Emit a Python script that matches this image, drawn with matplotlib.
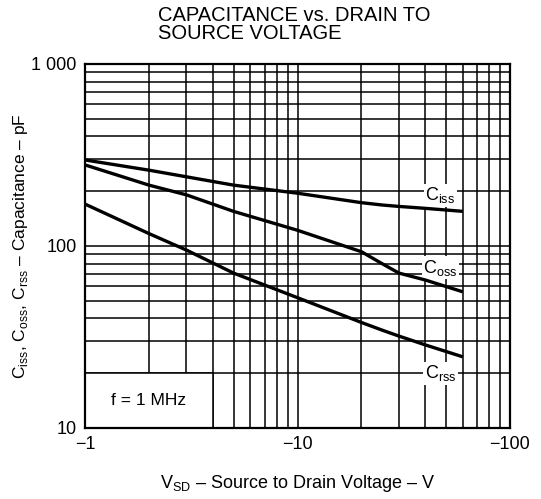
import matplotlib
matplotlib.use("Agg")
import matplotlib.pyplot as plt
from matplotlib.patches import Rectangle
from matplotlib.ticker import FixedLocator, FixedFormatter, NullFormatter

plt.rcParams['font.family'] = ['Liberation Sans', 'DejaVu Sans']
plt.rcParams['mathtext.fontset'] = 'custom'
plt.rcParams['mathtext.rm'] = 'Liberation Sans'

# source to drain voltage (V)
vsd = [-1, -2, -3, -5, -10, -20, -25, -30, -40, -60]
# capacitances (pF)
ciss = [297, 261, 240, 216, 195, 173, 168, 165, 161, 155]
coss = [279, 216, 191, 155, 122, 93, 80, 71, 65, 56]
crss = [170, 117, 95, 71, 52, 38, 34.5, 32, 28.6, 24.6]

x_ticks = [1, 10, 100]
x_ticklabels = ['\u22121', '\u221210', '\u2212100']
y_ticks = [10, 100, 1000]
y_ticklabels = ['10', '100', '1 000']

curve_labels = ['C$_{\\rm iss}$', 'C$_{\\rm oss}$', 'C$_{\\rm rss}$']
label_v = 47
label_c = [190, 76, 20]

W, H = 541, 499
fig = plt.figure(figsize=(W / 100, H / 100), dpi=100)
ax = fig.add_axes([85 / W, 1 - 428 / H, (510 - 85) / W, (428 - 64) / H])

ax.set_xscale('log')
ax.set_yscale('log')
ax.set_xlim(1, 100)
ax.set_ylim(10, 1000)

ax.set_axisbelow(True)
ax.grid(which='both', color='black', lw=1.1)

v_abs = [-v for v in vsd]
for c in (ciss, coss, crss):
    ax.plot(v_abs, c, color='black', lw=2.4, solid_capstyle='butt', zorder=4)

for txt, cy in zip(curve_labels, label_c):
    ax.text(label_v, cy, txt, ha='center', va='center', fontsize=13, zorder=3,
            bbox=dict(facecolor='white', edgecolor='none', pad=1.0))

# white note box in the lower left corner
ax.add_patch(Rectangle((1, 10), 3, 10, facecolor='white', edgecolor='black', lw=1.1, zorder=2))
ax.text(2.0, 14.2, 'f = 1 MHz', ha='center', va='center', fontsize=12.5, zorder=3)

ax.xaxis.set_major_locator(FixedLocator(x_ticks))
ax.xaxis.set_major_formatter(FixedFormatter(x_ticklabels))
ax.xaxis.set_minor_formatter(NullFormatter())
ax.yaxis.set_major_locator(FixedLocator(y_ticks))
ax.yaxis.set_major_formatter(FixedFormatter(y_ticklabels))
ax.yaxis.set_minor_formatter(NullFormatter())
ax.tick_params(which='both', length=0, labelsize=13, pad=6)

for s in ax.spines.values():
    s.set_linewidth(1.6)

ax.set_xlabel('V$_{\\rm SD}$ \u2013 Source to Drain Voltage \u2013 V', fontsize=13)
ax.xaxis.set_label_coords(0.5, -0.125)
ax.set_ylabel('C$_{\\rm iss}$, C$_{\\rm oss}$, C$_{\\rm rss}$ \u2013 Capacitance \u2013 pF', fontsize=12.5)
ax.yaxis.set_label_coords(-0.13, 0.5)

fig.text(158 / W, 1 - 6 / H, 'CAPACITANCE vs. DRAIN TO\nSOURCE VOLTAGE', ha='left', va='top',
         fontsize=14.5, linespacing=0.95)

fig.savefig('out.png', dpi=100)
